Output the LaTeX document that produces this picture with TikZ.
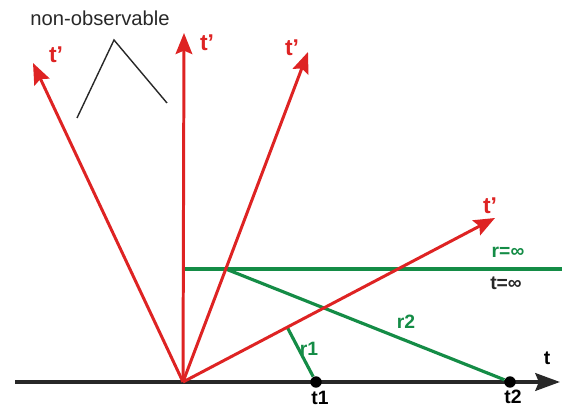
\documentclass[tikz,border=0pt]{standalone}
\usepackage{fontspec}
\setmainfont{Liberation Sans}
\usetikzlibrary{arrows.meta,calc}
\definecolor{linered}{RGB}{222,35,35}
\definecolor{linegreen}{RGB}{20,140,70}
\definecolor{textgray}{RGB}{40,40,40}
\begin{document}
\begin{tikzpicture}[x=0.02cm,y=-0.02cm,
    worldline/.style={draw=linered,line width=1.7pt,-{Stealth[length=12pt,width=9.5pt,inset=2pt]}},
    rayline/.style={draw=linegreen,line width=1.8pt},
    primelabel/.style={text=linered,font=\bfseries\fontsize{13}{15}\selectfont},
    greenlabel/.style={text=linegreen,font=\bfseries\fontsize{11}{13}\selectfont},
    ticklabel/.style={font=\bfseries\fontsize{11}{13}\selectfont},
    event/.style={circle,fill=black,inner sep=0pt,minimum size=6.5pt}]
\useasboundingbox (0,0) rectangle (562,408);
% time axis t with the two events t1, t2
\coordinate (O) at (183,382);
\coordinate (tstart) at (15,382);
\coordinate (tend) at (560,382);
\draw[line width=2.2pt,textgray,-{Stealth[length=14pt,width=10pt,inset=2pt]}] (tstart) -- (tend);
\node[ticklabel] (tlab) at (547,358) {t};
\node[event] (t1) at (316,382) {};
\node[event] (t2) at (510,382) {};
\node[ticklabel] (t1lab) at (320,398) {t1};
\node[ticklabel] (t2lab) at (513,397) {t2};
% tips of the t' axes
\coordinate (T1) at (33,63);
\coordinate (T2) at (184,33);
\coordinate (T3) at (308,52);
\coordinate (T4) at (495,218);
% horizon r = t = infinity
\coordinate (H1) at (185,269);
\coordinate (H2) at (562,269);
\coordinate (S) at (intersection of O--T3 and H1--H2);
\coordinate (F) at ($(O)!(t1)!(T4)$);
\draw[rayline] (H1) -- (H2);
\draw[rayline] (S) -- (t2);
\draw[rayline] (F) -- (t1);
\node[greenlabel] (r1lab) at (309,349) {r1};
\node[greenlabel] (r2lab) at (406,322) {r2};
\node[greenlabel] (rinf) at (508,252) {r=∞};
\node[ticklabel,textgray] (tinf) at (506,283) {t=∞};
% t' axes of the moving frames
\draw[worldline] (O) -- (T1);
\draw[worldline] (O) -- (T2);
\draw[worldline] (O) -- (T3);
\draw[worldline] (O) -- (T4);
\node[primelabel] (p1) at (56,55) {t’};
\node[primelabel] (p2) at (207,43) {t’};
\node[primelabel] (p3) at (292,48) {t’};
\node[primelabel] (p4) at (490,206) {t’};
% non-observable region marker
\node[text=textgray,font=\fontsize{11.5}{13}\selectfont] (nonobs) at (100,18) {non-observable};
\coordinate (m1) at (77,118);
\coordinate (m2) at (114,40);
\coordinate (m3) at (167,103);
\draw[textgray,line width=0.8pt] (m1) -- (m2) -- (m3);
\end{tikzpicture}
\end{document}
